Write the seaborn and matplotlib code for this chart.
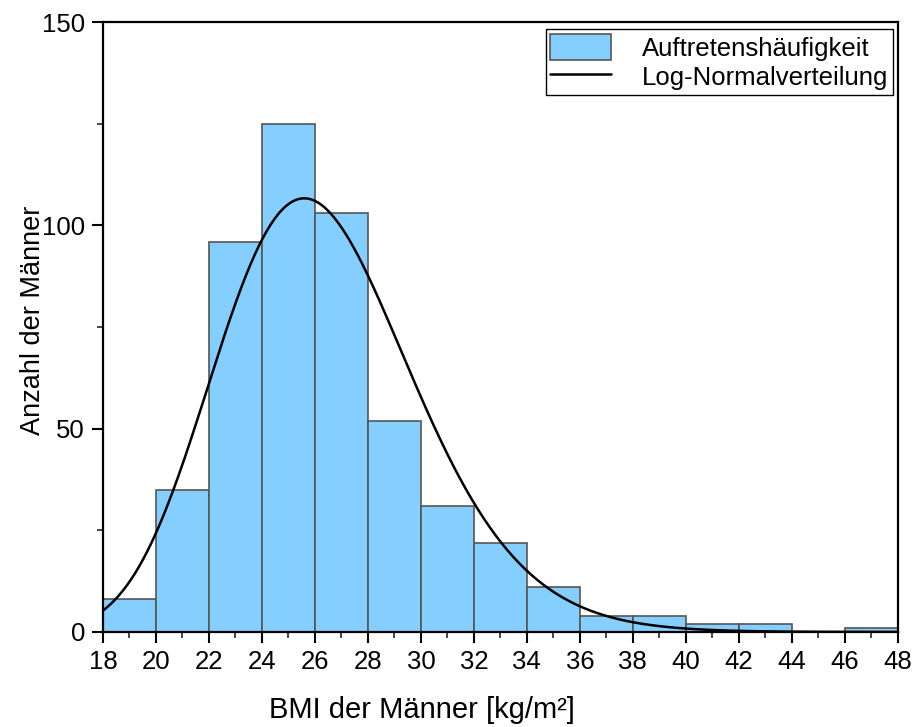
import numpy as np
import pandas as pd
import matplotlib
matplotlib.use("Agg")
import matplotlib.pyplot as plt
import seaborn as sns
from matplotlib.ticker import MultipleLocator

# Data
bin_edges = [18, 20, 22, 24, 26, 28, 30, 32, 34, 36, 38, 40, 42, 44, 46, 48]
counts = [8, 35, 96, 125, 103, 52, 31, 22, 11, 4, 4, 2, 2, 0, 1]
# Log-normal fit parameters (of ln(BMI))
ln_mu = 3.263
ln_sigma = 0.1435

sns.set_theme(style="ticks")
plt.rcParams['font.family'] = ['Liberation Sans', 'DejaVu Sans']

fig = plt.figure(figsize=(9.17, 7.27), dpi=100)
ax = fig.add_axes([0.1123, 0.1307, 0.979 - 0.1123, 0.9697 - 0.1307])

edges = np.array(bin_edges, dtype=float)
centers = (edges[:-1] + edges[1:]) / 2
df = pd.DataFrame({"bmi": centers, "n": np.array(counts, dtype=float)})

sns.histplot(data=df, x="bmi", weights="n", bins=list(bin_edges), ax=ax,
             color="#84CFFF", alpha=1.0, edgecolor="#555555", linewidth=1.2,
             label="Auftretenshäufigkeit")

N = sum(counts)
width = edges[1] - edges[0]
xs = np.linspace(18, 48, 400)
pdf = np.exp(-(np.log(xs) - ln_mu) ** 2 / (2 * ln_sigma ** 2)) / (xs * ln_sigma * np.sqrt(2 * np.pi))
curve = pd.DataFrame({"x": xs, "y": N * width * pdf})
sns.lineplot(data=curve, x="x", y="y", ax=ax, color="black", linewidth=1.8,
             label="Log-Normalverteilung")

ax.set_xlim(18, 48)
ax.set_ylim(0, 150)
ax.xaxis.set_major_locator(MultipleLocator(2))
ax.xaxis.set_minor_locator(MultipleLocator(1))
ax.yaxis.set_major_locator(MultipleLocator(50))
ax.yaxis.set_minor_locator(MultipleLocator(25))
ax.tick_params(axis="both", which="major", direction="out", length=8, width=1.5,
               labelsize=18.5, colors="black", pad=5)
ax.tick_params(axis="both", which="minor", direction="out", length=4, width=1.2)
for s in ax.spines.values():
    s.set_visible(True)
    s.set_color("black")
    s.set_linewidth(1.6)

ax.set_xlabel("BMI der Männer [kg/m²]", fontsize=21, labelpad=16, color="black")
ax.set_ylabel("Anzahl der Männer", fontsize=19.5, labelpad=-3, color="black")
ax.xaxis.label.set_x(0.401)
ax.yaxis.label.set_y(0.511)

handles, labels = ax.get_legend_handles_labels()
order = [labels.index("Auftretenshäufigkeit"), labels.index("Log-Normalverteilung")]
leg = ax.legend([handles[i] for i in order], [labels[i] for i in order],
                loc="upper right", bbox_to_anchor=(0.9945, 0.9885), fontsize=18.5,
                frameon=True, fancybox=False, framealpha=1, edgecolor="black",
                handlelength=2.37, handleheight=1.17, handletextpad=1.2,
                borderpad=0.19, labelspacing=0.12, borderaxespad=0)
leg.get_frame().set_linewidth(1.0)
for t in leg.get_texts():
    t.set_color("black")

fig.savefig("out.png", dpi=100)
